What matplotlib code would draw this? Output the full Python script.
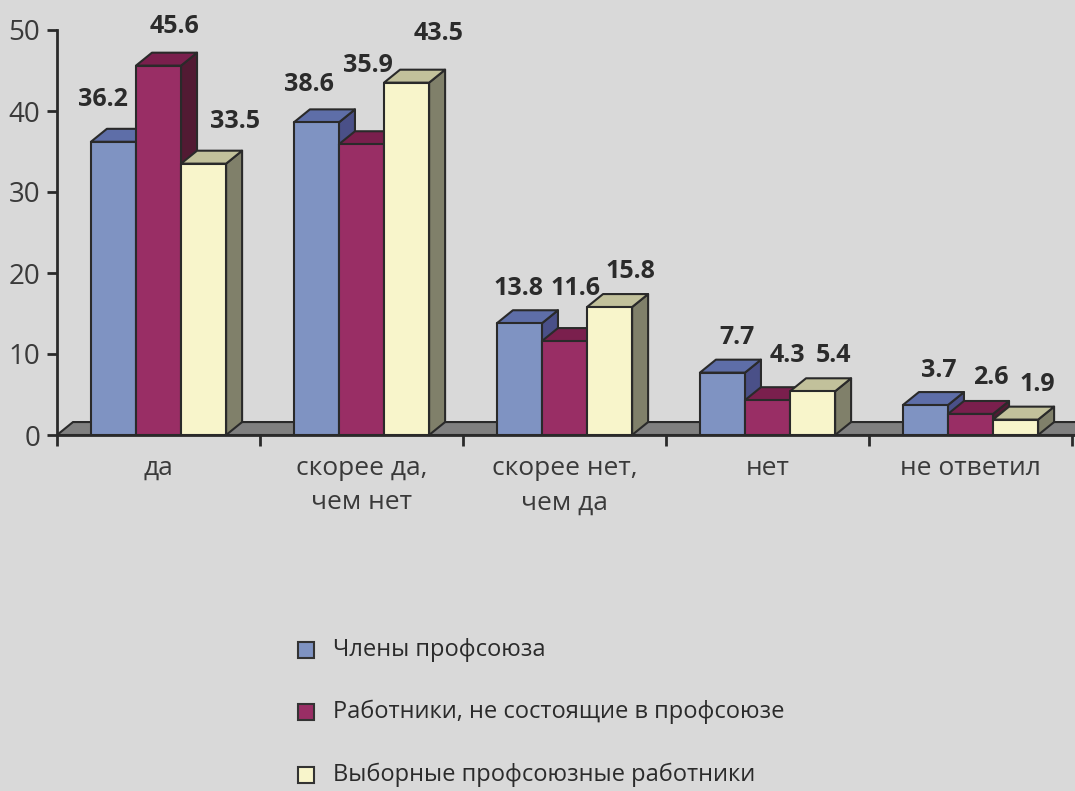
import matplotlib
matplotlib.use("Agg")
import matplotlib.pyplot as plt
from matplotlib.patches import Polygon, Rectangle

plt.rcParams['font.family'] = ['Open Sans', 'DejaVu Sans']

categories = ['да', 'скорее да,\nчем нет', 'скорее нет,\nчем да', 'нет', 'не ответил']
series_names = ['Члены профсоюза',
                'Работники, не состоящие в профсоюзе',
                'Выборные профсоюзные работники']
members = [36.2, 38.6, 13.8, 7.7, 3.7]
non_members = [45.6, 35.9, 11.6, 4.3, 2.6]
elected = [33.5, 43.5, 15.8, 5.4, 1.9]
values = [members, non_members, elected]

# front / top / side colours for each series
front = ['#7f93c2', '#992e65', '#f8f5cb']
top = ['#5e6ea8', '#7a1f4d', '#c2c19b']
side = ['#4a5088', '#521a33', '#80806a']
edge = '#2a2a2a'
bg = '#d9d9d9'

# label nudges (pixels) relative to the bar's front-top centre
label_nudge = [
    [(-10, 42), (-7, 38), (-1, 35), (15, 35), (13, 35)],
    [(16, 39), (6, 79), (11, 53), (20, 45), (20, 36)],
    [(31, 42), (32, 49), (21, 36), (21, 36), (22, 35)],
]

W, H = 1075, 791
fig = plt.figure(figsize=(W / 100, H / 100), dpi=100, facecolor=bg)
ax = fig.add_axes([57 / W, 1 - 435 / H, 1 - 57 / W, (435 - 30) / H])
ax.set_facecolor(bg)

xmax = (W - 57) / 203
ax.set_xlim(0, xmax)
ax.set_ylim(0, 50)

dx = 16 / 203
dy = 1.6
bw = 0.222
start = 0.167

# floor
ax.add_patch(Polygon([(0, 0), (dx, dy), (xmax + dx, dy), (xmax + dx, 0)],
                     closed=True, facecolor='#808080', edgecolor=edge,
                     lw=1.5, zorder=1, clip_on=False))

z = 2
for c in range(len(categories)):
    for s in range(3):
        v = values[s][c]
        x0 = c + start + s * bw
        ax.add_patch(Polygon([(x0 + bw, 0), (x0 + bw + dx, dy), (x0 + bw + dx, v + dy), (x0 + bw, v)],
                             closed=True, facecolor=side[s], edgecolor=edge, lw=1.5,
                             zorder=z, clip_on=False, joinstyle='round'))
        ax.add_patch(Polygon([(x0, v), (x0 + bw, v), (x0 + bw + dx, v + dy), (x0 + dx, v + dy)],
                             closed=True, facecolor=top[s], edgecolor=edge, lw=1.5,
                             zorder=z, clip_on=False, joinstyle='round'))
        ax.add_patch(Rectangle((x0, 0), bw, v, facecolor=front[s], edgecolor=edge,
                               lw=1.5, zorder=z + 0.5, clip_on=False, joinstyle='round'))
        z += 1
        nx, ny = label_nudge[s][c]
        ax.annotate(f'{v:.1f}', (x0 + bw / 2, v), xytext=(nx, ny),
                    textcoords='offset pixels', ha='center', va='center',
                    fontsize=18, fontweight='bold', color='#2b2b2b', zorder=100)

for sp in ['top', 'right']:
    ax.spines[sp].set_visible(False)
ax.spines['left'].set_color(edge)
ax.spines['left'].set_linewidth(2)
ax.spines['left'].set_zorder(50)
ax.spines['bottom'].set_color(edge)
ax.spines['bottom'].set_linewidth(2)
ax.spines['bottom'].set_zorder(50)

ax.set_yticks(range(0, 51, 10))
ax.tick_params(axis='y', length=7, width=2, color=edge, pad=5,
               labelsize=20, labelcolor='#3a3a3a')
ax.set_xticks(range(0, 6))
ax.set_xticklabels([])
ax.tick_params(axis='x', which='major', length=8, width=2, color=edge)
ax.set_xticks([c + 0.5 for c in range(len(categories))], minor=True)
ax.set_xticklabels(categories, minor=True, fontsize=19, color='#3a3a3a',
                   linespacing=1.5)
ax.tick_params(axis='x', which='minor', length=0, pad=15)

# legend
leg_y = [650, 712, 775]
for s in range(3):
    yc = leg_y[s]
    fig.add_artist(Rectangle(((298) / W, 1 - (yc + 8) / H), 16 / W, 16 / H,
                             transform=fig.transFigure, facecolor=front[s],
                             edgecolor='#333333', lw=1.5))
    fig.text(333 / W, 1 - yc / H, series_names[s], fontsize=17,
             color='#2b2b2b', va='center', ha='left')

fig.savefig('out.png', dpi=100, facecolor=bg)
